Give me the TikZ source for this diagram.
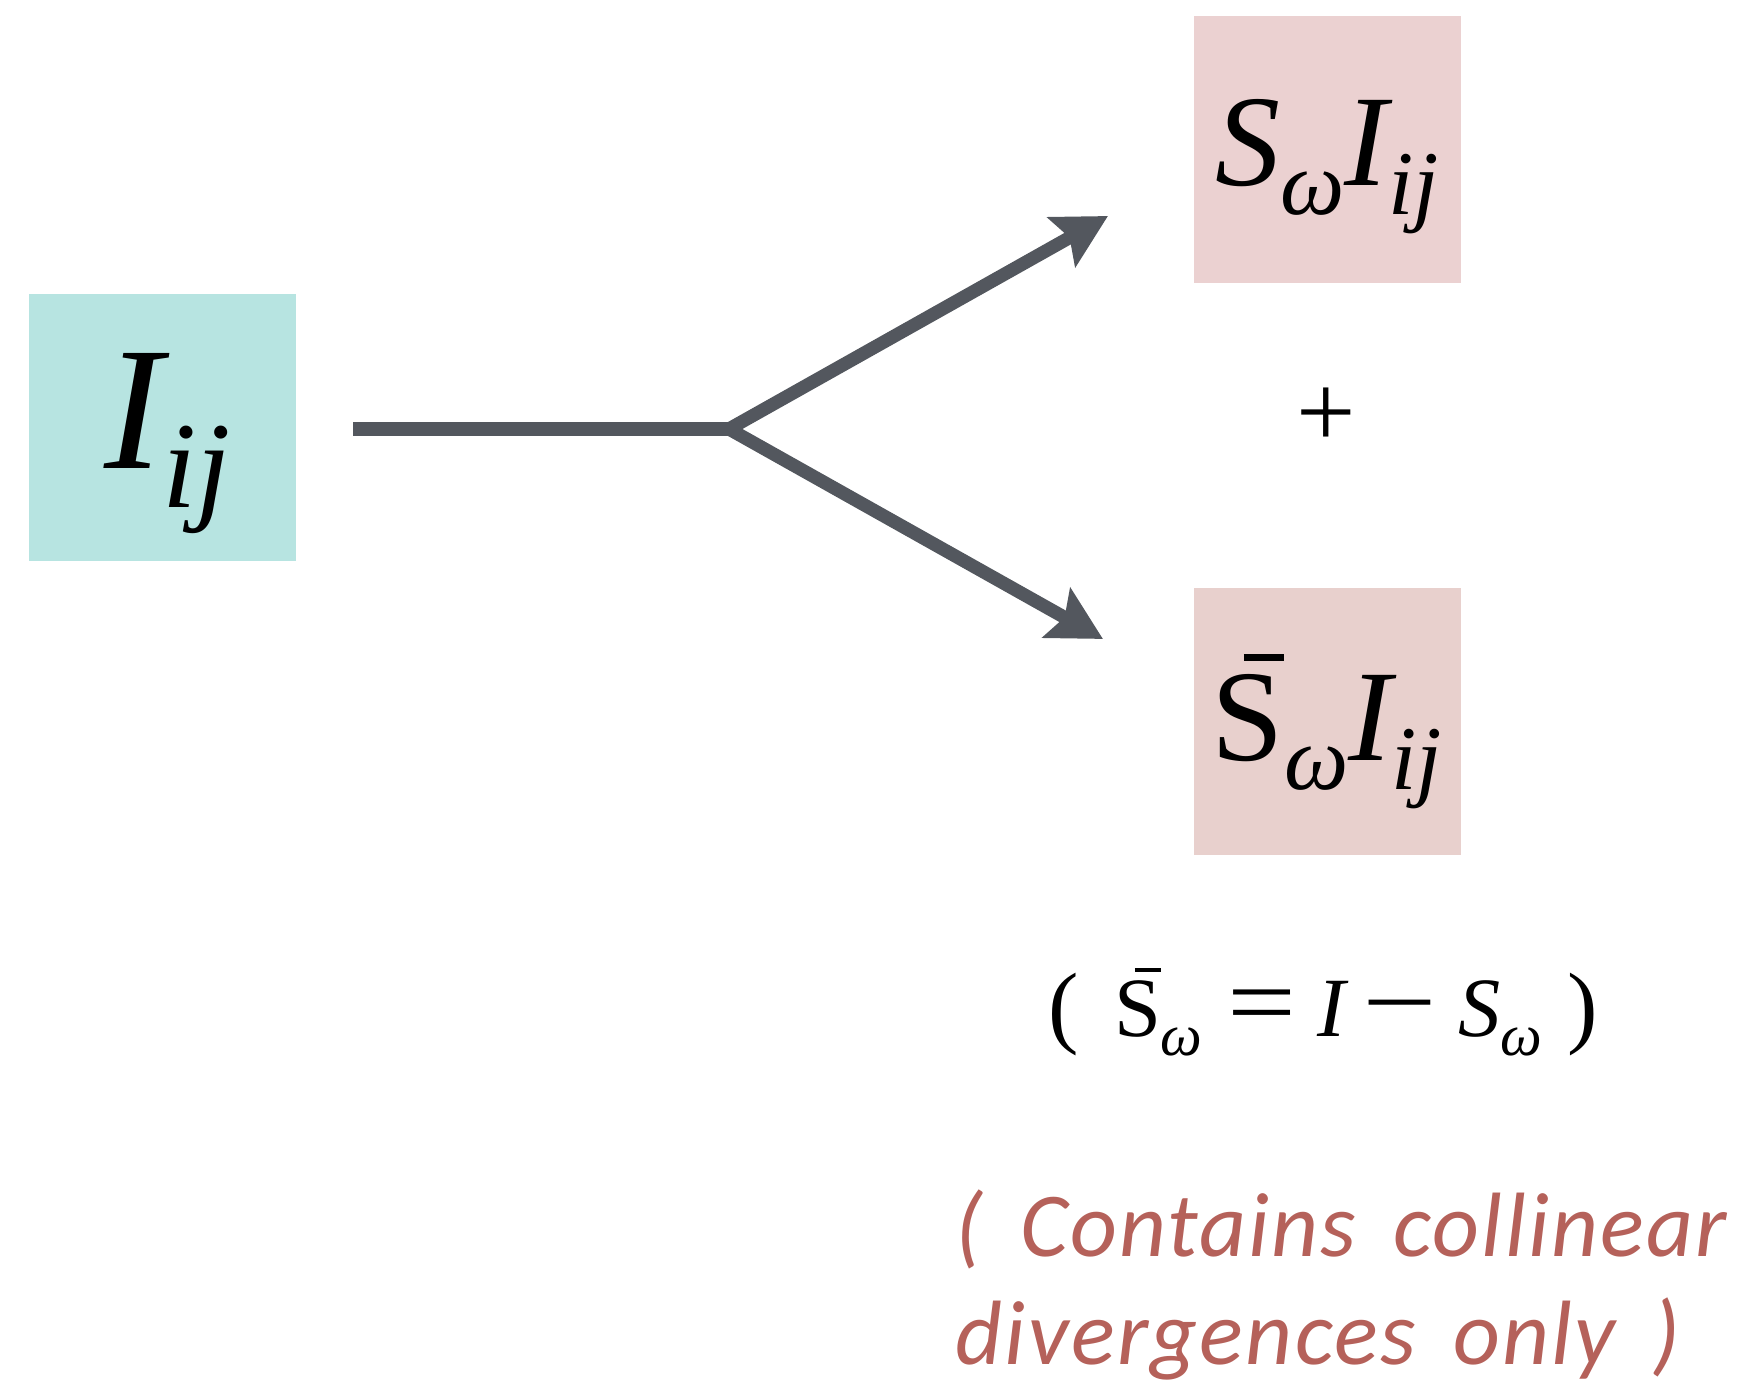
\documentclass[tikz,border=0pt]{standalone}
\usepackage{graphicx}
\usepackage{fontspec}
\usetikzlibrary{arrows.meta}
\newfontfamily\tnr{Liberation Serif}
\newfontfamily\notefont[LetterSpace=2.5, WordSpace=1.6]{Carlito}
\newcommand{\sub}[1]{\raisebox{-0.22em}{\scalebox{0.7}{#1}}}
\newcommand{\sbar}{{\ooalign{S\cr\hfil\raisebox{0.77em}{\rule{0.31em}{0.05em}}\cr}}}
\newcommand{\bigop}[2]{{\fontsize{29}{30}\selectfont\scalebox{#1}[1]{#2}}}
\definecolor{boxteal}{HTML}{B7E4E1}
\definecolor{boxpink}{HTML}{EBD1D1}
\definecolor{boxrose}{HTML}{E8D0CD}
\definecolor{arrowgray}{HTML}{53575E}
\definecolor{notered}{HTML}{B5615A}

\begin{document}
\begin{tikzpicture}[>={Stealth[length=5.3mm, width=5.6mm, inset=0.9mm]},
        box/.style={minimum width=2.67cm, minimum height=2.67cm, inner sep=0pt},
        flow/.style={arrowgray, line width=3.75pt},
        every node/.style={align=center}]

        \useasboundingbox (0,0) rectangle (17.37,-13.84);

        % Integrando di partenza
        \node[box, fill=boxteal, text height=1.2cm, text depth=0.37cm, font=\tnr\itshape\fontsize{50}{60}\selectfont] (lhs) at (1.625,-4.275) {\hspace{0.1cm}I\sub{ij}};

        % Termini della decomposizione
        \node[box, fill=boxpink, text height=1.1cm, text depth=0.38cm, font=\tnr\fontsize{37}{44}\selectfont] (soft) at (13.27,-1.495) {\itshape S\sub{ω}I\sub{ij}};
        \node[box, fill=boxrose, text height=1.1cm, text depth=0.32cm, font=\tnr\fontsize{37}{44}\selectfont] (hard) at (13.27,-7.22) {\sbar\itshape\sub{ω}I\sub{ij}};
        \node[font=\tnr\fontsize{30}{32}\selectfont] (plus) at (13.26,-4.18) {+};

        % Frecce
        \coordinate (start) at (3.53,-4.29);
        \coordinate (split) at (7.29,-4.29);
        \coordinate (tipA) at (11.08,-2.16);
        \coordinate (tipB) at (11.03,-6.39);
        \draw[flow] (start) -- (split);
        \draw[flow, <->] (tipA) -- (split) -- (tipB);

        % Definizione e nota
        \node[font=\tnr\fontsize{24}{28}\selectfont] (defn) at (13.23,-10.15) {{\fontsize{26}{28}\selectfont(}\hspace{10pt}\sbar\sub{\itshape ω}\hspace{7pt}\bigop{1.2}{=}\hspace{6pt}\textit{I}\hspace{4pt}\bigop{1.3}{−}\hspace{6pt}\textit{S}\sub{\itshape ω}\hspace{7pt}{\fontsize{26}{28}\selectfont)}};
        \node[anchor=west, inner sep=0pt, align=left, text=notered, font=\notefont\itshape\fontsize{26}{31}\selectfont] (note) at (9.55,-12.85) {( Contains collinear\\divergences only )};

    \end{tikzpicture}
\end{document}
